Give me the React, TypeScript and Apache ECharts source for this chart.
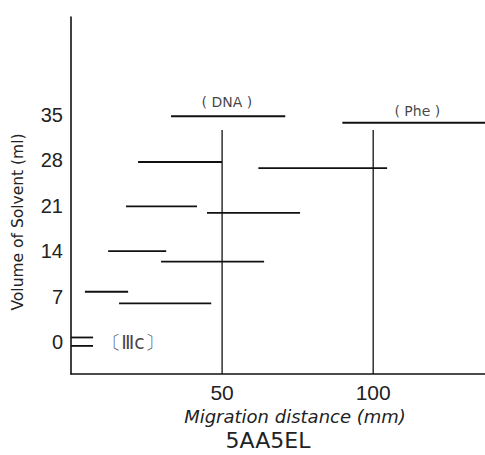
import React, { useEffect, useRef } from "react";
import * as echarts from "echarts";

// Fractions: y (ml), start and end of migration (mm)
const fracY = [34.8, 33.8, 27.75, 26.8, 20.9, 19.9, 14.0, 12.4, 7.75, 5.97, 0.7, -0.6];
const fracStart = [33.1, 89.8, 22.2, 62, 18.2, 45, 12.3, 29.8, 4.6, 15.9, 0, 0];
const fracEnd = [70.9, 137, 50, 104.6, 41.7, 75.8, 31.5, 63.9, 18.9, 46.4, 7.3, 7.3];

// Reference markers (vertical lines)
const markerX = [50, 100];
const markerTop = [32.7, 32.7];

// Y tick labels
const yTicks = [0, 7, 14, 21, 28, 35];

// Annotations
const noteText = ["( DNA )", "( Phe )", "〔Ⅲc〕"];
const noteX = [51.6, 114.6, 20.5];
const noteY = [37.0, 35.6, 0];
const noteSize = [14, 14, 19];

const Y_MIN = -4.93;
const Y_MAX = 50.1;
const X_MAX = 137;

export default function App() {
  const ref = useRef<HTMLDivElement>(null);
  useEffect(() => {
    if (!ref.current) return;
    const chart = echarts.init(ref.current, undefined, { renderer: "svg" });
    const lineStyle = { color: "#111", width: 1.8 };
    const series: any[] = [];
    fracY.forEach((y, i) => {
      series.push({
        type: "line",
        data: [
          [fracStart[i], y],
          [fracEnd[i], y],
        ],
        showSymbol: false,
        lineStyle,
        silent: true,
      });
    });
    markerX.forEach((x, i) => {
      series.push({
        type: "line",
        data: [
          [x, Y_MIN],
          [x, markerTop[i]],
        ],
        showSymbol: false,
        lineStyle: { color: "#111", width: 1.3 },
        silent: true,
      });
    });
    series.push({
      type: "scatter",
      symbolSize: 0,
      data: noteText.map((t, i) => ({
        value: [noteX[i], noteY[i]],
        name: t,
        label: { fontSize: noteSize[i] },
      })),
      label: {
        show: true,
        position: "inside",
        formatter: (p: any) => p.name,
        color: "#111",
        fontFamily: "DejaVu Sans",
      },
      silent: true,
    });

    chart.setOption({
      animation: false,
      grid: { left: 71, top: 17, right: 0, bottom: 81, containLabel: false },
      xAxis: {
        type: "value",
        min: 0,
        max: X_MAX,
        interval: 50,
        axisLine: { show: true, onZero: false, lineStyle: { color: "#111", width: 1.6 } },
        axisTick: { show: false },
        splitLine: { show: false },
        axisLabel: {
          showMinLabel: false,
          showMaxLabel: false,
          formatter: (v: number) => (v === 0 ? "" : String(v)),
          color: "#222",
          fontSize: 21,
          fontFamily: "Liberation Sans",
          margin: 8,
        },
      },
      yAxis: {
        type: "value",
        min: Y_MIN,
        max: Y_MAX,
        axisLine: { show: true, onZero: false, lineStyle: { color: "#111", width: 1.6 } },
        axisTick: { show: false },
        splitLine: { show: false },
        axisLabel: {
          customValues: yTicks,
          color: "#222",
          fontSize: 20,
          fontFamily: "Liberation Sans",
          margin: 8,
        },
      },
      graphic: [
        {
          type: "text",
          x: 18,
          y: 222,
          rotation: Math.PI / 2,
          style: {
            text: "Volume of Solvent (ml)",
            fill: "#222",
            fontSize: 15.5,
            fontFamily: "DejaVu Sans",
            align: "center",
            verticalAlign: "middle",
          },
        },
        {
          type: "text",
          x: 295,
          y: 416,
          style: {
            text: "Migration distance (mm)",
            fill: "#222",
            fontSize: 18,
            fontFamily: "DejaVu Sans",
            fontStyle: "italic",
            align: "center",
            verticalAlign: "middle",
          },
        },
        {
          type: "text",
          x: 268,
          y: 440,
          style: {
            text: "5AA5EL",
            fill: "#222",
            fontSize: 22,
            fontFamily: "DejaVu Sans",
            align: "center",
            verticalAlign: "middle",
          },
        },
      ],
      series,
    });
    return () => chart.dispose();
  }, []);
  return (
    <div
      ref={ref}
      style={{ position: "absolute", left: 0, top: 0, width: 485, height: 455, background: "#fff" }}
    />
  );
}
